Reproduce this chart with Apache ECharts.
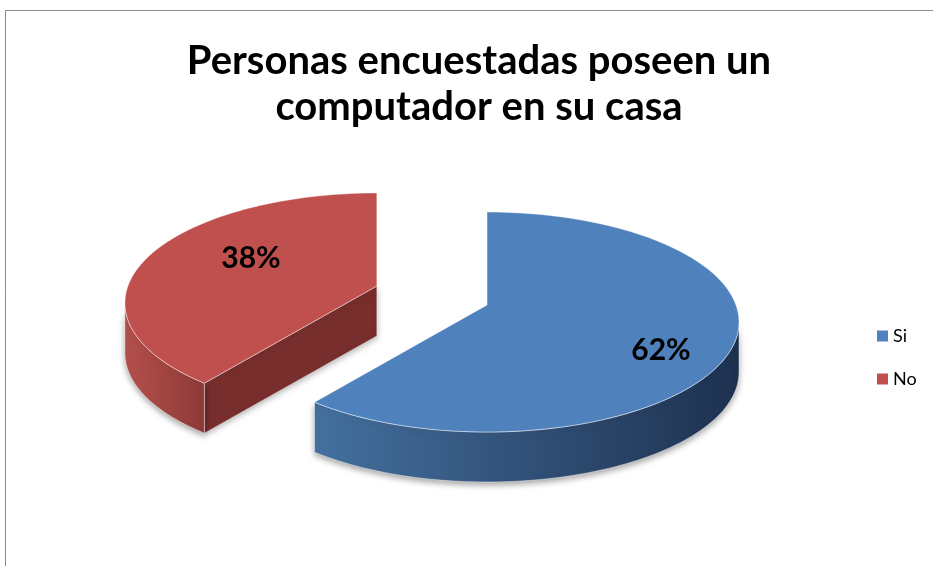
<!DOCTYPE html>
<html>
<head>
<meta charset="utf-8">
<script src="https://cdn.jsdelivr.net/npm/echarts@6/dist/echarts.min.js"></script>
<style>
  html, body { margin: 0; padding: 0; background: #fff; }
  #chart { width: 933px; height: 566px; }
</style>
</head>
<body>
<div id="chart"></div>
<script>
const categories = ['Si', 'No'];
const values = [62, 38];
const colors = ['#4F81BD', '#C0504D'];
const wallColors = [['#44709f', '#1e3150'], ['#b4504c', '#8e3a37']];
const cutColors = ['#2c4a70', '#772e2d'];
const explodes = [0, 0.47];

const total = values.reduce((a, b) => a + b, 0);

// 3D pie look: ellipse with a depth and a lifted apex (fake perspective)
const geo = { cx: 0.522, cy: 322, rx: 252, ry: 110, depth: 50, lift: 17 };

function makeRender(i) {
  return function (params, api) {
    let start = 0;
    for (let k = 0; k < i; k++) start += values[k] / total * Math.PI * 2;
    const end = start + api.value(1) / total * Math.PI * 2;
    const mid = (start + end) / 2;
    const W = api.getWidth();
    const ex = explodes[i];
    const ecx = geo.cx * W + ex * geo.rx * Math.sin(mid);
    const ecy = geo.cy - ex * geo.ry * Math.cos(mid);
    const rim = t => [ecx + geo.rx * Math.sin(t), ecy - geo.ry * Math.cos(t)];
    const apex = [ecx, ecy - geo.lift];
    const down = p => [p[0], p[1] + geo.depth];
    const arc = (a, b) => {
      const pts = [];
      const n = 90;
      for (let s = 0; s <= n; s++) pts.push(rim(a + (b - a) * s / n));
      return pts;
    };
    const children = [];
    const edge = 'rgba(255,255,255,0.55)';

    // cut face at start edge
    if (Math.sin(start) < -0.01) {
      const r = rim(start);
      children.push({
        type: 'polygon',
        shape: { points: [apex, r, down(r), down(apex)] },
        style: { fill: cutColors[i], stroke: edge, lineWidth: 0.8,
          shadowBlur: 6, shadowColor: 'rgba(0,0,0,0.3)', shadowOffsetY: 2 }
      });
    }
    // cut face at end edge
    if (Math.sin(end) > 0.01) {
      const r = rim(end);
      children.push({
        type: 'polygon',
        shape: { points: [apex, r, down(r), down(apex)] },
        style: { fill: cutColors[i], stroke: edge, lineWidth: 0.8 }
      });
    }
    // outer wall (front half only)
    const a = Math.max(start, Math.PI / 2);
    const b = Math.min(end, Math.PI * 1.5);
    if (b > a) {
      const top = arc(a, b);
      const pts = top.concat(top.slice().reverse().map(down));
      children.push({
        type: 'polygon',
        shape: { points: pts },
        style: {
          fill: new echarts.graphic.LinearGradient(0, 0, 1, 0, [
            { offset: 0, color: wallColors[i][0] },
            { offset: 1, color: wallColors[i][1] }
          ]),
          stroke: edge, lineWidth: 0.8,
          shadowBlur: 6, shadowColor: 'rgba(0,0,0,0.35)', shadowOffsetY: 3
        }
      });
    }
    // top face
    children.push({
      type: 'polygon',
      shape: { points: [apex].concat(arc(start, end)) },
      style: { fill: colors[i], stroke: edge, lineWidth: 0.8 }
    });
    // label
    children.push({
      type: 'text',
      style: {
        text: Math.round(api.value(1) / total * 100) + '%',
        x: ecx + 0.64 * geo.rx * Math.sin(mid) + 24,
        y: ecy - 0.9 * geo.ry * Math.cos(mid) - 8,
        align: 'center', verticalAlign: 'middle',
        font: 'bold 30px Lato', fill: '#000'
      }
    });
    return { type: 'group', children };
  };
}

const chart = echarts.init(document.getElementById('chart'));
chart.setOption({
  animation: false,
  title: {
    text: 'Personas encuestadas poseen un\ncomputador en su casa',
    left: 474,
    top: 33,
    textAlign: 'center',
    textStyle: { fontFamily: 'Lato', fontWeight: 'bold', fontSize: 40, lineHeight: 46, color: '#000' }
  },
  legend: {
    orient: 'vertical',
    left: 872,
    top: 322,
    itemWidth: 11,
    itemHeight: 11,
    itemGap: 25,
    icon: 'rect',
    textStyle: { fontFamily: 'Lato', fontSize: 18, color: '#000' },
    data: categories
  },
  graphic: [{
    type: 'rect',
    silent: true,
    shape: { x: 5.5, y: 10.5, width: 2000, height: 2000 },
    style: { fill: 'none', stroke: '#8c8c8c', lineWidth: 1 }
  }],
  series: categories.map((name, i) => ({
    type: 'custom',
    name: name,
    coordinateSystem: 'none',
    silent: true,
    itemStyle: { color: colors[i] },
    renderItem: makeRender(i),
    data: [[i, values[i]]]
  }))
});
</script>
</body>
</html>
